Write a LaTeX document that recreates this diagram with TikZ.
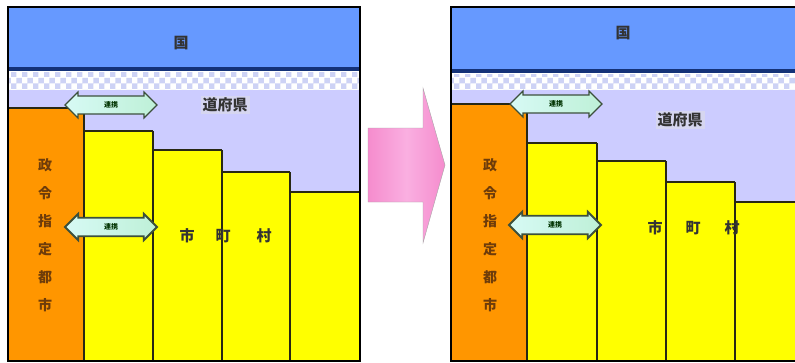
\documentclass[tikz,border=0pt]{standalone}
\usepackage{fontspec}
\newfontfamily\jp{Noto Sans CJK JP}
\usetikzlibrary{shapes.arrows,patterns}
\definecolor{kuni}{RGB}{102,153,255}
\definecolor{navyline}{RGB}{20,50,120}
\definecolor{lav}{RGB}{204,204,255}
\definecolor{lavlight}{RGB}{214,214,240}
\definecolor{checkc}{RGB}{205,210,245}
\definecolor{orng}{RGB}{255,150,0}
\definecolor{yel}{RGB}{255,255,0}
\definecolor{barline}{RGB}{40,40,20}
\definecolor{mint}{RGB}{190,240,215}
\definecolor{aqua}{RGB}{215,250,245}
\definecolor{arrowedge}{RGB}{60,80,60}
\definecolor{pinkc}{RGB}{245,140,205}
\definecolor{pinklight}{RGB}{250,175,225}
\definecolor{vbrown}{RGB}{110,60,10}
\tikzset{
  renkei/.style={double arrow, draw=arrowedge, line width=1.2pt,
    left color=aqua, right color=mint, minimum height=92, minimum width=26,
    double arrow head extend=4, inner xsep=1, inner ysep=5,
    font=\jp\bfseries\fontsize{7}{7}\selectfont, text=black!80!green},
  barfill/.style={fill=yel},
  bartop/.style={draw=barline, line width=2pt},
  sep/.style={draw=barline, line width=1.2pt},
  bigtxt/.style={font=\jp\bfseries\fontsize{15}{15}\selectfont, text=black!80},
  vtxt/.style={font=\jp\bfseries\fontsize{14}{28}\selectfont, align=center, text=vbrown},
}
\begin{document}
\begin{tikzpicture}[x=1pt,y=-1pt]
\useasboundingbox (0,0) rectangle (795,362);
\fill[white] (0,0) rectangle (795,362);
% ---------------- left panel ----------------
\fill[kuni] (8,8) rectangle (360,67);
\fill[navyline] (8,67) rectangle (360,71);
\fill[white] (8,71) rectangle (360,90);
\fill[pattern=checkerboard, pattern color=checkc] (8,72) rectangle (360,90);
\fill[lav] (8,90) rectangle (360,361);
\fill[orng] (8,108) rectangle (84,361);
\fill[barfill] (84,131) rectangle (153,361);
\fill[barfill] (153,150) rectangle (222,361);
\fill[barfill] (222,172) rectangle (290,361);
\fill[barfill] (290,192) rectangle (360,361);
\draw[bartop] (8,108) -- (84,108);
\draw[bartop] (84,131) -- (153,131);
\draw[bartop] (153,150) -- (222,150);
\draw[bartop] (222,172) -- (290,172);
\draw[bartop] (290,192) -- (360,192);
\draw[sep] (84,108) -- (84,361);
\draw[sep] (153,131) -- (153,361);
\draw[sep] (222,150) -- (222,361);
\draw[sep] (290,172) -- (290,361);
\draw[black, line width=1.5pt] (8,7) rectangle (360,361);
\node[bigtxt] (kuniL) at (181,43) {国};
\node[bigtxt, fill=lavlight, inner sep=2] (fukenL) at (225,105) {道府県};
\node[bigtxt] (shiL) at (187,236) {市};
\node[bigtxt] (choL) at (223,236) {町};
\node[bigtxt] (sonL) at (264,236) {村};
\node[vtxt] (seireiL) at (45,235) {政\\令\\指\\定\\都\\市};
\node[renkei] (r1L) at (111,105) {連携};
\node[renkei, line width=1.8pt] (r2L) at (111,227) {連携};
% ---------------- middle arrow ----------------
\draw[draw=black!35, left color=pinkc, right color=pinkc, middle color=pinklight]
  (368,128) -- (423,128) -- (423,88) -- (445,165) -- (423,243) -- (423,202) -- (368,202) -- cycle;
% ---------------- right panel ----------------
\fill[kuni] (451,8) rectangle (795,69);
\fill[navyline] (451,69) rectangle (795,73);
\fill[white] (451,73) rectangle (795,90);
\fill[pattern=checkerboard, pattern color=checkc] (451,74) rectangle (795,90);
\fill[lav] (451,90) rectangle (795,361);
\fill[orng] (451,104) rectangle (527,361);
\fill[barfill] (527,143) rectangle (597,361);
\fill[barfill] (597,161) rectangle (666,361);
\fill[barfill] (666,182) rectangle (735,361);
\fill[barfill] (735,202) rectangle (795,361);
\draw[bartop] (451,104) -- (527,104);
\draw[bartop] (527,143) -- (597,143);
\draw[bartop] (597,161) -- (666,161);
\draw[bartop] (666,182) -- (735,182);
\draw[bartop] (735,202) -- (795,202);
\draw[sep] (527,104) -- (527,361);
\draw[sep] (597,143) -- (597,361);
\draw[sep] (666,161) -- (666,361);
\draw[sep] (735,182) -- (735,361);
\draw[black, line width=1.5pt] (797,7) -- (451,7) -- (451,361) -- (797,361);
\node[bigtxt] (kuniR) at (623,33) {国};
\node[bigtxt, fill=lavlight, inner sep=2] (fukenR) at (680,120) {道府県};
\node[bigtxt] (shiR) at (655,228) {市};
\node[bigtxt] (choR) at (693,228) {町};
\node[bigtxt] (sonR) at (732,228) {村};
\node[vtxt] (seireiR) at (490,235) {政\\令\\指\\定\\都\\市};
\node[renkei] (r1R) at (556,104) {連携};
\node[renkei, line width=1.8pt] (r2R) at (555,225) {連携};
\end{tikzpicture}
\end{document}
